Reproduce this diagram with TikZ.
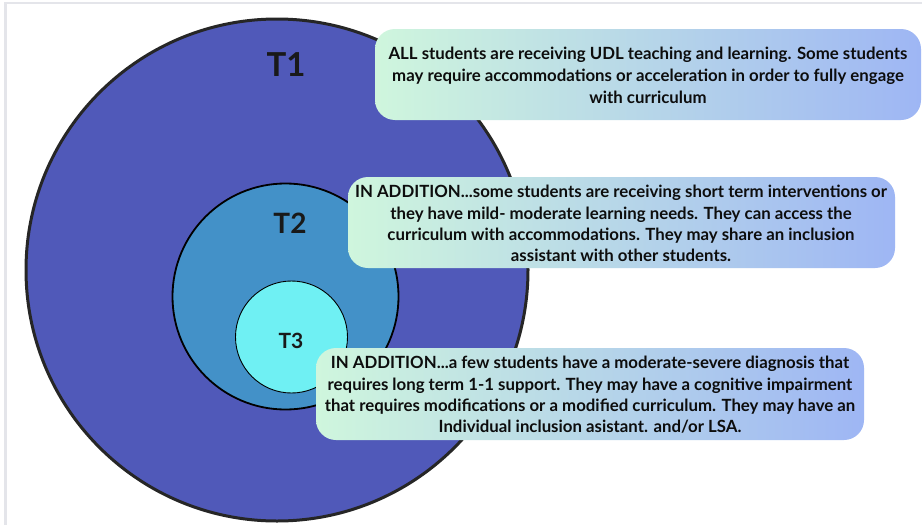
\documentclass[tikz,border=0pt]{standalone}
\usepackage{fontspec}
\setmainfont{Lato}
\usetikzlibrary{calc}

\definecolor{tierone}{HTML}{5059B9}
\definecolor{tiertwo}{HTML}{4391C8}
\definecolor{tierthree}{HTML}{6FF0F3}
\definecolor{boxgreen}{HTML}{CFF6DD}
\definecolor{boxmid}{HTML}{B4D6E8}
\definecolor{boxblue}{HTML}{9EB6F4}
\definecolor{framegray}{HTML}{E4E5EA}

\begin{document}
\begin{tikzpicture}[x=1pt,y=-1pt,
    infobox/.style={rounded corners=20pt, left color=boxgreen, middle color=boxmid, right color=boxblue},
    infotext/.style={align=center, font=\bfseries\fontsize{16.8}{21.3}\selectfont, text=black!95},
    tierlabel/.style={font=\bfseries, text=black!90}]
    \useasboundingbox (0,0) rectangle (922,525);
    %frame
    \fill[white] (0,0) rectangle (922,525);
    \draw[framegray, line width=2.5pt] (5.5,525) -- (5.5,3) -- (922,3);

    %tiers
    \filldraw[fill=tierone, draw=black!85, line width=3pt] (277,270) circle (251);
    \filldraw[fill=tiertwo, draw=black, line width=1.8pt] (285.5,296.5) circle (113);
    \filldraw[fill=tierthree, draw=black, line width=0.9pt] (291.5,337) circle (56);

    \node[tierlabel, font=\bfseries\fontsize{33}{33}\selectfont] (tone) at (286,65) {T1};
    \node[tierlabel, font=\bfseries\fontsize{28}{28}\selectfont] (ttwo) at (290,223) {T2};
    \node[tierlabel, font=\bfseries\fontsize{21}{21}\selectfont] (tthree) at (291,341) {T3};

    %boxes
    \shade[infobox] (375,29) rectangle (921,120);
    \node[infotext, font=\bfseries\fontsize{16.8}{22}\selectfont] (udl) at (648,75)
        {ALL students are receiving UDL teaching and learning. Some students\\
         may require accommodations or acceleration in order to fully engage\\
         with curriculum};

    \shade[infobox] (348,177) rectangle (895,268);
    \node[infotext] (short) at (621,223.5)
        {IN ADDITION...some students are receiving short term interventions or\\
         they have mild- moderate learning needs. They can access the\\
         curriculum with accommodations. They may share an inclusion\\
         assistant with other students.};

    \shade[infobox] (316,348) rectangle (864,440);
    \node[infotext] (long) at (590,395)
        {IN ADDITION...a few students have a moderate-severe diagnosis that\\
         requires long term 1-1 support. They may have a cognitive impairment\\
         that requires modifications or a modified curriculum. They may have an\\
         Individual inclusion asistant. and/or LSA.};
\end{tikzpicture}
\end{document}
